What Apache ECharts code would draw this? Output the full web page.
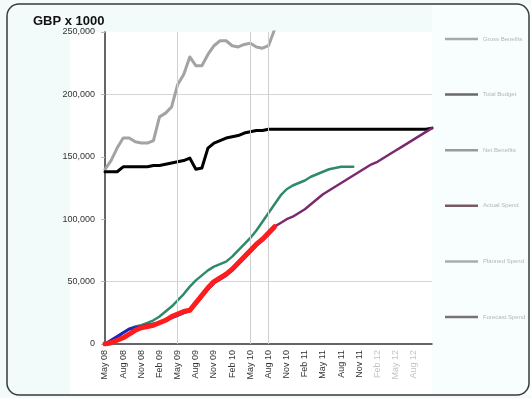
<!DOCTYPE html>
<html>
<head>
<meta charset="utf-8">
<script src="https://cdn.jsdelivr.net/npm/echarts@6/dist/echarts.min.js"></script>
<style>
  html, body { margin: 0; padding: 0; background: #f3fbfa; }
  #chart { width: 531px; height: 398px; }
</style>
</head>
<body>
<div id="chart"></div>
<script>
// monthly categories, May 08 .. Nov 12
const months = [
  "May 08", "Jun 08", "Jul 08", "Aug 08", "Sep 08", "Oct 08", "Nov 08", "Dec 08",
  "Jan 09", "Feb 09", "Mar 09", "Apr 09", "May 09", "Jun 09", "Jul 09", "Aug 09",
  "Sep 09", "Oct 09", "Nov 09", "Dec 09", "Jan 10", "Feb 10", "Mar 10", "Apr 10",
  "May 10", "Jun 10", "Jul 10", "Aug 10", "Sep 10", "Oct 10", "Nov 10", "Dec 10",
  "Jan 11", "Feb 11", "Mar 11", "Apr 11", "May 11", "Jun 11", "Jul 11", "Aug 11",
  "Sep 11", "Oct 11", "Nov 11", "Dec 11", "Jan 12", "Feb 12", "Mar 12", "Apr 12",
  "May 12", "Jun 12", "Jul 12", "Aug 12", "Sep 12", "Oct 12", "Nov 12"
];
// labels shown on the x axis (quarterly)
const tickLabels = [
  "May 08", "Aug 08", "Nov 08", "Feb 09", "May 09", "Aug 09", "Nov 09", "Feb 10", "May 10",
  "Aug 10", "Nov 10", "Feb 11", "May 11", "Aug 11", "Nov 11", "Feb 12", "May 12", "Aug 12"
];
const fadedLabels = ["Feb 12", "May 12", "Aug 12"];
const yTicks = [0, 50000, 100000, 150000, 200000, 250000];
const gridMonths = ["May 09", "May 10", "Aug 10"];

// legend names (text in the picture is not legible)
const names = ["Gross Benefits", "Total Budget", "Net Benefits", "Actual Spend", "Planned Spend", "Forecast Spend"];

const grossBenefits = [
  140000, 147000, 157000, 165000, 165000, 162000, 161000, 161000, 163000, 182000,
  185000, 190000, 208000, 216000, 230000, 223000, 223000, 232000, 239000, 243000,
  243000, 239000, 238000, 240000, 241000, 238000, 237000, 239000, 252000
];
const totalBudget = [
  138000, 138000, 138000, 142000, 142000, 142000, 142000, 142000, 143000, 143000,
  144000, 145000, 146000, 147000, 149000, 140000, 141000, 157000, 161000, 163000,
  165000, 166000, 167000, 169000, 170000, 171000, 171000, 172000, 172000, 172000,
  172000, 172000, 172000, 172000, 172000, 172000, 172000, 172000, 172000, 172000,
  172000, 172000, 172000, 172000, 172000, 172000, 172000, 172000, 172000, 172000,
  172000, 172000, 172000, 172000, 173000
];
const netBenefits = [
  0, 2000, 5000, 9000, 12000, 14000, 15000, 17000, 19000, 22000,
  26000, 30000, 35000, 40000, 46000, 51000, 55000, 59000, 62000, 64000,
  66000, 70000, 75000, 80000, 85000, 91000, 98000, 105000, 112000, 119000,
  124000, 127000, 129000, 131000, 134000, 136000, 138000, 140000, 141000, 142000,
  142000, 142000
];
const actualSpend = [
  0, 1000, 3000, 5000, 8000, 11000, 13000, 14000, 15000, 17000,
  19000, 22000, 24000, 26000, 27000, 33000, 39000, 45000, 50000, 53000,
  56000, 60000, 65000, 70000, 75000, 80000, 84000, 89000, 94000
];
const plannedSpend = [
  0, 3000, 6000, 9000, 12000, 13000, 14000, 15000, 16000, 17000,
  19000, 21000, 23000, 25000, 27000, 32000, 38000, 44000, 49000, 52000,
  55000, 59000, 64000, 69000, 74000, 79000, 83000, 88000, 93000
];
const forecastSpend = [
  null, null, null, null, null, null, null, null, null, null,
  null, null, null, null, null, null, null, null, null, null,
  null, null, null, null, null, null, null, null, 94000, 97000,
  100000, 102000, 105000, 108000, 112000, 116000, 120000, 123000, 126000, 129000,
  132000, 135000, 138000, 141000, 144000, 146000, 149000, 152000, 155000, 158000,
  161000, 164000, 167000, 170000, 173000
];

const chart = echarts.init(document.getElementById("chart"));

function line(name, data, color, width, z) {
  return {
    name: name,
    type: "line",
    data: data,
    showSymbol: false,
    symbol: "none",
    clip: true,
    z: z,
    lineStyle: { color: color, width: width, cap: "round", join: "round" },
    itemStyle: { color: color }
  };
}

const series = [
  line(names[0], grossBenefits, "#a3a3a3", 3, 3),
  line(names[1], totalBudget, "#000000", 3, 4),
  line(names[2], netBenefits, "#2f8a6a", 2.5, 3),
  line(names[3], actualSpend, "#ff1c1c", 5, 6),
  line(names[4], plannedSpend, "#2222b8", 3, 5),
  line(names[5], forecastSpend, "#7a2a70", 2.5, 5)
];
// light vertical gridlines
series[0].markLine = {
  silent: true,
  symbol: "none",
  label: { show: false },
  lineStyle: { color: "#cfcfcf", width: 1, type: "solid" },
  data: gridMonths.map(function (m) { return { xAxis: m }; })
};

// the legend lines look washed out in the picture
const legendColors = ["#a8a8a8", "#6a6a6a", "#979c99", "#7a5a62", "#acacac", "#77717a"];

chart.setOption({
  backgroundColor: "#f3fbfa",
  animation: false,
  title: {
    text: "GBP x 1000",
    left: 28,
    top: 10,
    textStyle: { fontFamily: "Liberation Sans, Arial", fontSize: 13, fontWeight: "bold", color: "#111" }
  },
  graphic: [
    { type: "rect", z: -10, shape: { x: 432, y: 5, width: 99, height: 390 }, style: { fill: "#f8fefd" } },
    { type: "rect", z: -9, shape: { x: 70, y: 32, width: 362, height: 363 }, style: { fill: "#ffffff" } },
    { type: "rect", z: 10, shape: { x: 7, y: 4, width: 522, height: 391, r: 12 },
      style: { fill: "none", stroke: "#3a3a3a", lineWidth: 1.5 } }
  ],
  legend: {
    orient: "vertical",
    left: 440,
    top: 29,
    itemWidth: 33,
    itemHeight: 2.5,
    itemGap: 45.6,
    icon: "rect",
    textStyle: { fontFamily: "Liberation Sans, Arial", fontSize: 6, lineHeight: 10, color: "#b4b4b4" },
    data: names.map(function (n, i) {
      return { name: n, itemStyle: { color: legendColors[i] } };
    })
  },
  grid: { left: 105, right: 99, top: 32, bottom: 54, containLabel: false },
  xAxis: {
    type: "category",
    data: months,
    boundaryGap: false,
    axisLine: { lineStyle: { color: "#333", width: 1.5 } },
    axisTick: { show: false },
    splitLine: { show: false },
    axisLabel: {
      rotate: 90,
      margin: 6,
      fontFamily: "Liberation Sans, Arial",
      fontSize: 9,
      interval: function (index, value) { return tickLabels.indexOf(value) >= 0; },
      color: function (value) { return fadedLabels.indexOf(value) >= 0 ? "#c4c4c4" : "#333"; }
    }
  },
  yAxis: {
    type: "value",
    min: yTicks[0],
    max: yTicks[yTicks.length - 1],
    interval: 50000,
    axisLine: { show: true, lineStyle: { color: "#333", width: 1.5 } },
    axisTick: { show: true, length: 4, lineStyle: { color: "#bbb" } },
    splitLine: {
      show: true,
      lineStyle: { color: ["transparent", "#d6d6d6", "transparent", "transparent", "#d6d6d6", "transparent"], width: 1 }
    },
    axisLabel: {
      margin: 10,
      fontFamily: "Liberation Sans, Arial",
      fontSize: 9,
      color: "#333",
      formatter: function (v) { return v.toLocaleString("en-US"); }
    }
  },
  series: series
});
</script>
</body>
</html>
